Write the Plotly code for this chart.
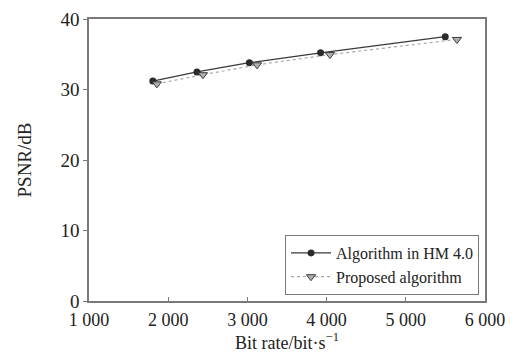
import plotly.graph_objects as go

hm_rate = [1806, 2363, 3025, 3924, 5498]
hm_psnr = [31.2, 32.5, 33.8, 35.2, 37.5]
prop_rate = [1857, 2439, 3122, 4042, 5646]
prop_psnr = [30.8, 32.1, 33.5, 34.95, 37.1]
x_ticks = [1000, 2000, 3000, 4000, 5000, 6000]
x_labels = ["1 000", "2 000", "3 000", "4 000", "5 000", "6 000"]
y_ticks = [0, 10, 20, 30, 40]

FONT = "Liberation Serif"
AX = "#7a7a7a"

fig = go.Figure()
fig.add_trace(go.Scatter(
    x=hm_rate, y=hm_psnr, name="Algorithm in HM 4.0", mode="lines+markers",
    line=dict(color="#3a3a3a", width=1.2),
    marker=dict(symbol="circle", size=7, color="#2a2a2a"),
))
fig.add_trace(go.Scatter(
    x=prop_rate, y=prop_psnr, name="Proposed algorithm", mode="lines+markers",
    line=dict(color="#a8a8a8", width=1.2, dash="dot"),
    marker=dict(symbol="triangle-down", size=8, color="#b0b0b0",
                line=dict(color="#3a3a3a", width=1)),
))

fig.update_layout(
    width=514, height=353,
    margin=dict(l=89, r=29, t=19, b=52),
    paper_bgcolor="white", plot_bgcolor="white",
    font=dict(family=FONT, size=19, color="#222"),
    showlegend=True,
    legend=dict(x=0.495, y=0.234, xanchor="left", yanchor="top",
                bordercolor=AX, borderwidth=1, bgcolor="white",
                font=dict(family=FONT, size=16, color="#222"),
                tracegroupgap=0, itemwidth=40),
    xaxis=dict(range=[1000, 6000], tickvals=x_ticks, ticktext=x_labels,
               automargin=False,
               showgrid=False, zeroline=False, showline=True, linecolor=AX,
               linewidth=1.5, mirror=True, ticks="inside", ticklen=4,
               tickcolor=AX, tickfont=dict(size=18), ticklabelstandoff=2,
               title=dict(text="Bit rate/bit·s<sup>−1</sup>", font=dict(size=18), standoff=6)),
    yaxis=dict(range=[0, 40], tickvals=y_ticks, automargin=False,
               showgrid=False, zeroline=False, showline=True, linecolor=AX,
               linewidth=1.5, mirror=True, ticks="outside", ticklen=4,
               tickcolor=AX, tickfont=dict(size=19),
               title=dict(text="PSNR/dB", font=dict(size=19), standoff=24)),
)

fig.write_html("out.html", config={"displayModeBar": False},
               post_script="document.body.style.margin='0';")
